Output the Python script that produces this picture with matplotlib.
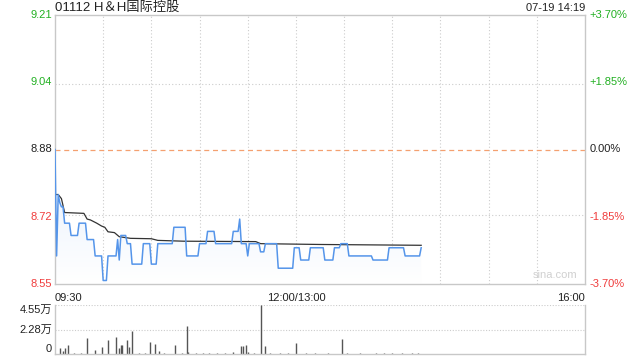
import numpy as np
import matplotlib
matplotlib.use('Agg')
import matplotlib.pyplot as plt
from matplotlib.colors import LinearSegmentedColormap

plt.rcParams['font.family'] = ['Liberation Sans', 'Noto Sans CJK SC', 'DejaVu Sans']

# data (minutes after 09:30, lunch break removed)
title = '01112 H＆H国际控股'
stamp = '07-19 14:19'
prev_close = 8.88

price_t = [0, 1, 2, 3, 4, 5, 6, 9, 10, 14, 15, 19, 20, 24, 25, 29, 30, 32, 33, 38,
           39, 40, 41, 44, 45, 47, 48, 54, 55, 59, 60, 63, 64, 73, 74, 81, 82, 89,
           90, 94, 95, 99, 100, 110, 111, 114, 115, 116, 119, 120, 121, 127, 128,
           130, 131, 138, 139, 148, 149, 152, 153, 158, 159, 167, 168, 173, 174,
           177, 178, 182, 183, 197, 198, 207, 208, 217, 218, 227, 228]
price_v = [8.88, 8.62, 8.77, 8.75, 8.74, 8.74, 8.70, 8.70, 8.67, 8.67, 8.70, 8.70,
           8.66, 8.66, 8.62, 8.62, 8.56, 8.56, 8.62, 8.62, 8.66, 8.61, 8.67, 8.67,
           8.65, 8.65, 8.60, 8.60, 8.65, 8.65, 8.60, 8.60, 8.65, 8.65, 8.69, 8.69,
           8.62, 8.62, 8.65, 8.65, 8.68, 8.68, 8.65, 8.65, 8.68, 8.68, 8.71, 8.65,
           8.65, 8.62, 8.65, 8.65, 8.63, 8.63, 8.65, 8.65, 8.59, 8.59, 8.64, 8.64,
           8.61, 8.61, 8.64, 8.64, 8.61, 8.61, 8.64, 8.64, 8.65, 8.65, 8.62, 8.62,
           8.61, 8.61, 8.64, 8.64, 8.62, 8.62, 8.64]

avg_t = [1, 2, 4, 6, 18, 20, 22, 26, 29, 31, 33, 37, 40, 47, 60, 64, 80, 125, 128, 165, 228]
avg_v = [8.77, 8.77, 8.76, 8.726, 8.724, 8.71, 8.708, 8.70, 8.693, 8.69, 8.679, 8.677,
         8.667, 8.663, 8.662, 8.658, 8.656, 8.655, 8.650, 8.648, 8.646]

vol_t = [3, 5, 6, 8, 12, 16, 20, 25, 29, 33, 38, 40, 41, 42, 45, 46, 48, 52, 56, 59,
         62, 65, 68, 75, 79, 82, 83, 88, 92, 96, 101, 106, 111, 116, 117, 119, 120,
         124, 128, 131, 134, 140, 145, 150, 156, 162, 170, 179, 182, 190, 200, 205,
         210, 216, 222, 226]
vol_v = [5300, 2800, 5300, 8400, 600, 700, 14900, 3700, 6500, 13000, 15800, 5300,
         8400, 8400, 13000, 6500, 21400, 600, 700, 11100, 9300, 2800, 600, 8400, 700,
         26000, 1900, 600, 800, 600, 700, 600, 1900, 7400, 7400, 8400, 1900, 700,
         45500, 7400, 900, 600, 700, 10200, 600, 900, 700, 13900, 900, 600, 700, 800,
         600, 900, 700, 600]

price_ticks = [9.21, 9.04, 8.88, 8.72, 8.55]
pct_ticks = ['+3.70%', '+1.85%', '0.00%', '-1.85%', '-3.70%']
tick_colors = ['#22b022', '#22b022', '#222222', '#f03c3c', '#f03c3c']
vol_ticks = [45500, 22750, 0]
vol_labels = ['4.55万', '2.28万', '0']

total_min = 330
lo, hi = prev_close * (1 - 0.037), prev_close * (1 + 0.037)

fig = plt.figure(figsize=(6.4, 3.6), dpi=100)
ax = fig.add_axes([55 / 640, 1 - 284 / 360, 530 / 640, 269 / 360])
axv = fig.add_axes([55 / 640, 1 - 354 / 360, 530 / 640, 49 / 360])

grid_c = '#cccccc'
for a in (ax, axv):
    for s in a.spines.values():
        s.set_color('#c8c8c8')
        s.set_linewidth(1)

# main price panel
ax.set_xlim(0, total_min)
ax.set_ylim(lo, hi)
for xg in range(30, total_min, 30):
    ax.axvline(xg, color=grid_c, lw=0.8, ls=(0, (1, 2)), zorder=0)
for yg in [price_ticks[1], price_ticks[3]]:
    ax.axhline(yg, color=grid_c, lw=0.8, ls=(0, (1, 2)), zorder=0)
ax.axhline(prev_close, color='#f4a070', lw=0.9, ls=(0, (4, 3)), zorder=1)

# light gradient under the price line
top = max(price_v)
poly = ax.fill_between(price_t, price_v, lo, color='none', lw=0)
cmap = LinearSegmentedColormap.from_list('fade', ['#ffffff', '#e6effc'])
grad = ax.imshow(np.linspace(0, 1, 100).reshape(-1, 1), cmap=cmap, aspect='auto',
                 origin='lower', extent=[0, max(price_t), lo, top], zorder=1)
grad.set_clip_path(poly.get_paths()[0], transform=ax.transData)
ax.set_xlim(0, total_min)
ax.set_ylim(lo, hi)

ax.plot(price_t, price_v, color='#5595ea', lw=1.1, zorder=3)
ax.plot(avg_t, avg_v, color='#333333', lw=0.9, zorder=2)

ax.set_xticks([])
ax.set_yticks([])
for i, p in enumerate(price_ticks):
    y = lo + (hi - lo) * (4 - i) / 4
    ax.text(-0.006, y, f'{p:.2f}', transform=ax.get_yaxis_transform(),
            ha='right', va='center', fontsize=8, color=tick_colors[i])
    ax.text(1.008, y, pct_ticks[i], transform=ax.get_yaxis_transform(),
            ha='left', va='center', fontsize=8, color=tick_colors[i])

ax.text(0, -0.035, '09:30', transform=ax.transAxes, ha='left', va='top', fontsize=8, color='#222222')
ax.text(150 / total_min, -0.035, '12:00/13:00', transform=ax.transAxes, ha='center', va='top',
        fontsize=8, color='#222222')
ax.text(1, -0.035, '16:00', transform=ax.transAxes, ha='right', va='top', fontsize=8, color='#222222')
ax.text(0.985, 0.015, 'sina.com', transform=ax.transAxes, ha='right', va='bottom',
        fontsize=8, color='#d0d0d0')

ax.text(0, 1.006, title, transform=ax.transAxes, ha='left', va='bottom', fontsize=9.5, color='#222222')
ax.text(1, 1.006, stamp, transform=ax.transAxes, ha='right', va='bottom', fontsize=8, color='#222222')

# volume panel
axv.set_xlim(0, total_min)
axv.set_ylim(0, max(vol_v))
axv.spines['top'].set_visible(False)
for yg in vol_ticks[:2]:
    axv.axhline(yg, color=grid_c, lw=0.8, ls=(0, (1, 1.5)), zorder=0)
axv.vlines(vol_t, 0, vol_v, color='#555555', lw=1)
axv.set_xticks([])
axv.set_yticks([])
vas = ['top', 'center', 'bottom']
for v, lab, va in zip(vol_ticks, vol_labels, vas):
    axv.text(-0.006, v, lab, transform=axv.get_yaxis_transform(), ha='right', va=va,
             fontsize=8, color='#222222')

fig.savefig('out.png', dpi=100)
